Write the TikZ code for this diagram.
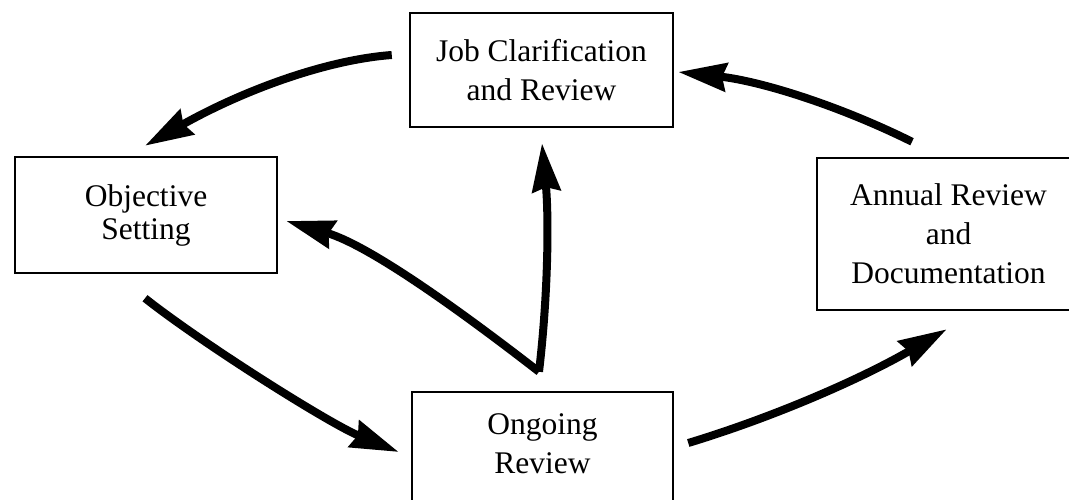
\documentclass[tikz,border=0pt]{standalone}
\usepackage{fontspec}
\setmainfont{Liberation Serif}
\usetikzlibrary{arrows.meta,calc}
\begin{document}
\begin{tikzpicture}[x=1pt,y=-1pt,
  box/.style={draw, line width=2.5pt, minimum width=263pt, inner sep=0pt, align=center,
    font=\fontsize{31.5}{39}\selectfont},
  flow/.style={line width=8pt, -{Stealth[length=48pt,width=28pt,inset=4pt]}}]
\useasboundingbox (0,0) rectangle (1069,500);
\clip (0,0) rectangle (1069,500);
\node[box, minimum height=114pt] (job) at (541.5,70) {Job Clarification\\and Review};
\node[box, minimum height=116pt, minimum width=262pt, font=\fontsize{31.5}{33}\selectfont] (obj) at (146,215) {Objective\\Setting};
\node[box, minimum height=152pt] (annual) at (948.5,234) {Annual Review\\and\\Documentation};
\node[box, minimum height=120pt, minimum width=261pt, text depth=17pt] (ongoing) at (542.5,452) {Ongoing\\Review};
\coordinate (fork) at ($(ongoing.north)+(-3.5,-19)$);
\draw[flow] ($(job.west)+(-17,-15)$) .. controls (325,60) and (242,91) .. ($(obj.north)+(-1,-10)$);
\draw[flow] ($(obj.south)+(-1,24)$) .. controls (203,344) and (330,424) .. ($(ongoing.west)+(-12,0)$);
\draw[flow] ($(ongoing.east)+(14,-9)$) .. controls (774,417) and (861,379) .. ($(annual.south west)+(131,18)$);
\draw[flow] ($(annual.north)+(-36.5,-15)$) .. controls (838,105) and (760,81) .. ($(job.east)+(4,2)$);
\draw[flow] (fork) .. controls (548,296) and (549,219) .. ($(job.south)+(0.5,15)$);
\draw[flow] (fork) .. controls (467,316) and (371.5,246) .. ($(obj.east)+(8,6)$);
\end{tikzpicture}
\end{document}
